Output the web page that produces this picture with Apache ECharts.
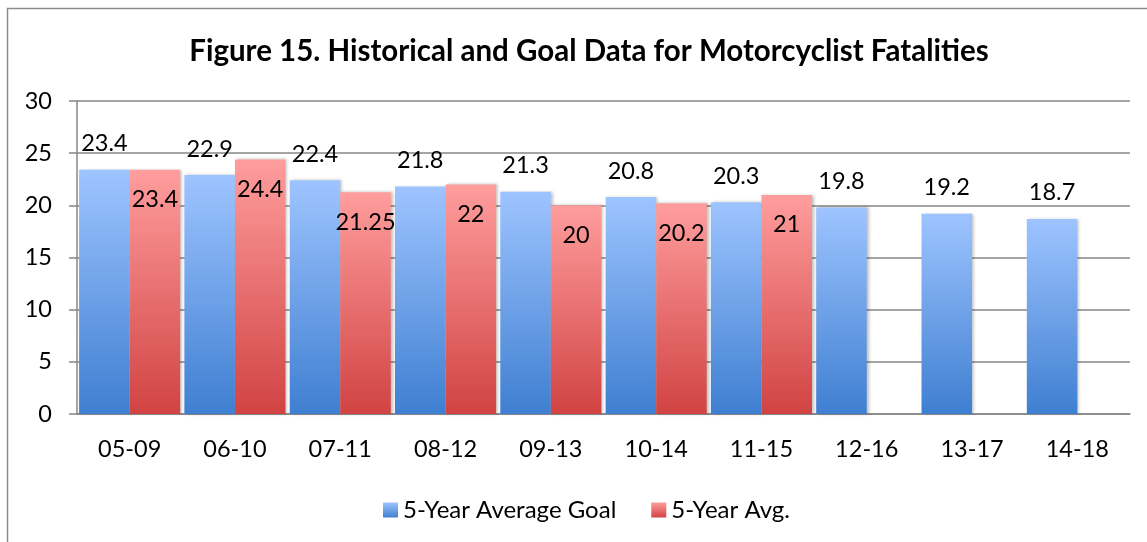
<!DOCTYPE html>
<html>
<head>
<meta charset="utf-8">
<script src="https://cdn.jsdelivr.net/npm/echarts@6/dist/echarts.min.js"></script>
<style>
  html, body { margin: 0; padding: 0; background: #fff; }
  #chart { width: 1147px; height: 542px; }
</style>
</head>
<body>
<div id="chart"></div>
<script>
// data
const periods = ['05-09', '06-10', '07-11', '08-12', '09-13', '10-14', '11-15', '12-16', '13-17', '14-18'];
const goalValues = [23.4, 22.9, 22.4, 21.8, 21.3, 20.8, 20.3, 19.8, 19.2, 18.7];
const avgValues = [23.4, 24.4, 21.25, 22, 20, 20.2, 21, null, null, null];
const yTicks = { min: 0, max: 30, interval: 5 };

const FONT = 'Lato';
const grey = '#878787';

var chart = echarts.init(document.getElementById('chart'));

function vGrad(top, bottom) {
    return new echarts.graphic.LinearGradient(0, 0, 0, 1, [
        { offset: 0, color: top },
        { offset: 1, color: bottom }
    ]);
}

var option = {
    animation: false,
    backgroundColor: '#fff',
    textStyle: { fontFamily: FONT },
    graphic: [{
        type: 'rect',
        shape: { x: 7.5, y: 8.5, width: 1200, height: 600 },
        style: { fill: 'none', stroke: '#8c8c8c', lineWidth: 1.5 },
        silent: true
    }],
    title: {
        text: 'Figure 15. Historical and Goal Data for Motorcyclist Fatalities',
        left: 584,
        top: 31,
        textAlign: 'center',
        textStyle: { fontFamily: FONT, fontWeight: 'bold', fontSize: 29.5, color: '#000' }
    },
    legend: {
        left: 378,
        top: 493,
        itemWidth: 15,
        itemHeight: 15,
        itemGap: 35,
        icon: 'rect',
        textStyle: { fontFamily: FONT, fontSize: 24, color: '#000', padding: [0, 0, 0, 0] },
        data: ['5-Year Average Goal', '5-Year Avg.']
    },
    grid: { left: 77, right: 17, top: 101, bottom: 128, containLabel: false },
    xAxis: {
        type: 'category',
        data: periods,
        axisLine: { lineStyle: { color: grey, width: 1.5 } },
        axisTick: { length: 8, lineStyle: { color: grey, width: 1.5 } },
        axisLabel: { fontFamily: FONT, fontSize: 23.5, color: '#000', margin: 23 }
    },
    yAxis: {
        type: 'value',
        min: yTicks.min,
        max: yTicks.max,
        interval: yTicks.interval,
        axisLine: { show: true, lineStyle: { color: grey, width: 1.5 } },
        axisTick: { show: true, length: 8, lineStyle: { color: grey, width: 1.5 } },
        axisLabel: { fontFamily: FONT, fontSize: 23.5, color: '#000', margin: 25 },
        splitLine: { lineStyle: { color: grey, width: 1.5 } }
    },
    series: [
        {
            name: '5-Year Average Goal',
            type: 'bar',
            data: goalValues,
            barGap: '0%',
            barCategoryGap: '4%',
            itemStyle: {
                color: vGrad('#9ec4ff', '#3f7fd1'),
                shadowColor: 'rgba(0,0,0,0.25)',
                shadowBlur: 3,
                shadowOffsetX: 2
            },
            label: {
                show: true,
                position: 'top',
                distance: 14,
                fontFamily: FONT,
                fontSize: 23.5,
                color: '#000'
            }
        },
        {
            name: '5-Year Avg.',
            type: 'bar',
            data: avgValues,
            barGap: '0%',
            barCategoryGap: '4%',
            itemStyle: {
                color: vGrad('#ff9d9d', '#d14343'),
                shadowColor: 'rgba(0,0,0,0.25)',
                shadowBlur: 3,
                shadowOffsetX: 2
            },
            label: {
                show: true,
                position: 'insideTop',
                distance: 18,
                fontFamily: FONT,
                fontSize: 23.5,
                color: '#000'
            }
        }
    ]
};

option && chart.setOption(option);
</script>
</body>
</html>
